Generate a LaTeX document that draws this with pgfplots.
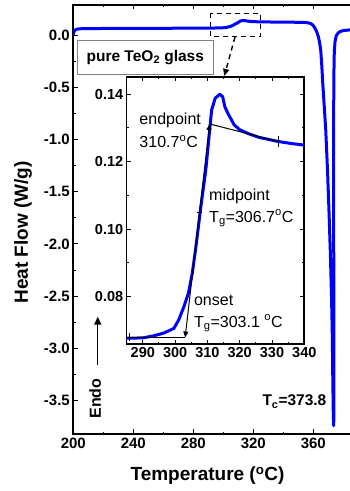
\documentclass[border=0pt]{standalone}
\usepackage{fontspec}
\setmainfont{Liberation Sans}
\usepackage{pgfplots}
\pgfplotsset{compat=1.18}
\usetikzlibrary{arrows.meta,calc}
\definecolor{curveblue}{RGB}{0,0,255}
\begin{document}
\begin{tikzpicture}
\begin{axis}[
  name=main,
  scale only axis, width=285pt, height=429pt,
  xmin=200, xmax=390, ymin=-3.82, ymax=0.289,
  xtick={200,240,280,320,360}, minor x tick num=1,
  ytick={-3.5,-3,-2.5,-2,-1.5,-1,-0.5,0}, minor y tick num=1,
  tick align=inside,
  major tick length=4.5pt, minor tick length=2.5pt,
  every tick/.style={black, line width=1pt},
  axis line style={line width=1.6pt},
  /pgf/number format/assume math mode=true,
  tick label style={font=\fontsize{15}{18}\selectfont\bfseries},
  yticklabel style={/pgf/number format/fixed, /pgf/number format/fixed zerofill, /pgf/number format/precision=1},
  xticklabel style={/pgf/number format/1000 sep={}},
  xlabel={Temperature (\textsuperscript{o}C)},
  ylabel={Heat Flow (W/g)},
  label style={font=\fontsize{19}{22}\selectfont\bfseries},
  xlabel style={at={(axis description cs:0.471,-0.098)}, anchor=center},
  ylabel style={at={(axis description cs:-0.1765,0.47)}, anchor=center},
]
\addplot[curveblue, line width=3pt, line join=round, line cap=round] coordinates {
(200,0.0) (200.4,0.03) (201,0.047) (202,0.056) (204,0.061) (208,0.063) (220,0.064) (240,0.065) (260,0.066) (280,0.067)
(285,0.0677) (290,0.0678) (293.3,0.0684) (296.4,0.0692) (299.6,0.0706) (301.1,0.0731) (302.7,0.077) (304.1,0.081)
(305.3,0.0869) (306.3,0.0938) (307.2,0.1007) (307.9,0.1062) (309.5,0.1176) (310.5,0.1274) (311.3,0.1353) (312.4,0.1388)
(313.8,0.14) (314.7,0.1393) (315.4,0.1363) (316.3,0.1344) (318.3,0.1309) (320,0.1295) (322.5,0.1284) (326,0.1272)
(331.9,0.126) (336,0.1254) (340.2,0.1249) (346,0.124) (352,0.123) (355,0.121) (357,0.117) (358.5,0.11) (359.8,0.095)
(361,0.07) (362.2,0.035) (363.3,-0.01) (364.2,-0.07) (365,-0.15) (365.7,-0.3) (366.3,-0.46) (367.3,-0.68) (368.3,-0.91)
(369.5,-1.3) (370.5,-1.7) (371.4,-2.1) (372.2,-2.54) (372.7,-2.9) (373.0,-3.3) (373.3,-3.6) (373.55,-3.74) (373.75,-3.65)
(373.75,-3.0) (373.65,-2.2) (373.55,-1.5) (373.55,-0.9) (373.7,-0.4) (374,-0.16) (374.5,-0.06) (375.3,-0.005)
(376.5,0.02) (377.8,0.034) (380,0.044) (384,0.05) (390,0.054)
};
\draw[gray, line width=0.8pt, fill=white] (axis cs:202.7,-0.0527) rectangle (axis cs:293.3,-0.3716);
\node[font=\fontsize{15.5}{18}\selectfont\bfseries] at (axis cs:248,-0.212) {pure TeO\textsubscript{2} glass};
\draw[dash pattern=on 5pt off 4pt, line width=1.4pt] (axis cs:291.6,0.21) rectangle (axis cs:324.9,-0.0144);
\draw[dash pattern=on 5pt off 4pt, line width=1.4pt, -{Triangle[length=7pt,width=6pt]}] (axis cs:307.8,-0.017) -- (axis cs:300.7,-0.39);
\node[rotate=90, font=\fontsize{16}{19}\selectfont\bfseries] at (axis cs:214.5,-3.48) {Endo};
\draw[line width=1.4pt, -{Triangle[length=8pt,width=7pt]}] (axis cs:216.3,-3.159) -- (axis cs:216.3,-2.696);
\node[anchor=west, inner sep=0pt, font=\fontsize{15.5}{18}\selectfont\bfseries] at (axis cs:326,-3.51) {T\textsubscript{c}=373.8};
\end{axis}
\begin{axis}[
  at={($(main.south west)+(53.4pt,89.7pt)$)}, anchor=south west,
  scale only axis, width=177.6pt, height=267.6pt,
  xmin=285, xmax=340, ymin=0.0659, ymax=0.1452,
  axis background/.style={fill=white},
  xtick={290,300,310,320,330,340}, minor x tick num=1,
  ytick={0.08,0.1,0.12,0.14}, minor y tick num=1,
  tick align=inside,
  major tick length=4pt, minor tick length=2.5pt,
  every tick/.style={black, line width=1pt},
  axis line style={line width=1.6pt},
  /pgf/number format/assume math mode=true,
  tick label style={font=\fontsize{14.5}{17}\selectfont\bfseries},
  yticklabel style={/pgf/number format/fixed, /pgf/number format/fixed zerofill, /pgf/number format/precision=2},
  xticklabel style={/pgf/number format/1000 sep={}},
]
\addplot[curveblue, line width=3pt, line join=round] coordinates {
(285,0.0677) (290,0.0678) (293.3,0.0684) (296.4,0.0692) (299.6,0.0706) (301.1,0.0731) (302.7,0.077) (304.1,0.081)
(305.3,0.0869) (306.3,0.0938) (307.2,0.1007) (307.9,0.1062) (309.5,0.1176) (310.5,0.1274) (311.3,0.1353) (312.4,0.1388)
(313.8,0.14) (314.7,0.1393) (315.4,0.1363) (316.3,0.1344) (318.3,0.1309) (320,0.1295) (322.5,0.1284) (326,0.1272)
(331.9,0.126) (336,0.1254) (340.2,0.1249)
};
\draw[line width=1pt] (axis cs:285.3,0.0679) -- (axis cs:303.1,0.0679);
\draw[line width=1pt] (axis cs:286,0.0668) -- (axis cs:286,0.0692);
\draw[line width=1pt, {Triangle[length=6pt,width=5pt]}-{Triangle[length=6pt,width=5pt]}] (axis cs:303.1,0.0679) -- (axis cs:310.7,0.1312);
\draw[line width=1pt] (axis cs:306.9,0.105) -- (axis cs:308.3,0.105);
\draw[line width=1pt] (axis cs:310.7,0.1312) -- (axis cs:331.9,0.126);
\draw[line width=1pt] (axis cs:331.9,0.1277) -- (axis cs:331.9,0.1243);
\node[anchor=west, inner sep=0pt, font=\fontsize{16}{19}\selectfont] at (axis cs:288.9,0.1324) {endpoint};
\node[anchor=west, inner sep=0pt, font=\fontsize{16}{19}\selectfont] at (axis cs:288.9,0.1259) {310.7\textsuperscript{o}C};
\node[anchor=west, inner sep=0pt, font=\fontsize{16}{19}\selectfont] at (axis cs:310.5,0.1096) {midpoint};
\node[anchor=west, inner sep=0pt, font=\fontsize{16}{19}\selectfont] at (axis cs:310.5,0.1032) {T\textsubscript{g}=306.7\textsuperscript{o}C};
\node[anchor=west, inner sep=0pt, font=\fontsize{16}{19}\selectfont] at (axis cs:305.8,0.079) {onset};
\node[anchor=west, inner sep=0pt, font=\fontsize{16}{19}\selectfont] at (axis cs:305.8,0.0721) {T\textsubscript{g}=303.1 \textsuperscript{o}C};
\end{axis}
\pgfresetboundingbox
\path[use as bounding box] ($(main.south west)+(-73.3pt,-57pt)$) rectangle ($(main.south west)+(275.7pt,434pt)$);
\end{tikzpicture}
\end{document}
